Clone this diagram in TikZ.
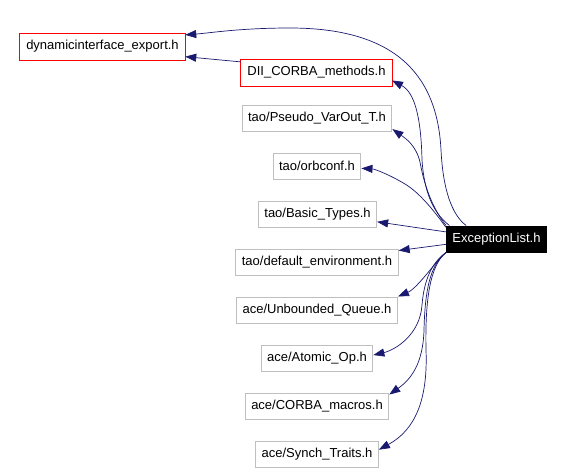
\documentclass[tikz,border=0pt]{standalone}
\usepackage{fontspec}
\setmainfont{Liberation Sans}
\usetikzlibrary{arrows.meta}
\definecolor{edgecol}{HTML}{191970}
\definecolor{hdrgrey}{HTML}{BFBFBF}
\definecolor{hdrred}{RGB}{255,0,0}
\tikzset{
  hfile/.style  = {draw=hdrgrey, line width=1pt, inner xsep=6pt, inner ysep=0pt,
                   minimum height=26pt, font=\fontsize{13}{15}\selectfont},
  hmiss/.style  = {hfile, draw=none},
  hframe/.style = {draw=hdrred, line width=1pt},
  hself/.style  = {hfile, draw=black, fill=black, text=white},
  incl/.style   = {draw=edgecol, line width=0.7pt,
                   -{Triangle[length=11pt, width=8pt, fill=edgecol]}},
}

\begin{document}
\begin{tikzpicture}[x=1pt, y=-1pt]

    \fill[white] (0,0) rectangle (563,472);
    \useasboundingbox (0,0) rectangle (563,472);

    % ---------- headers -------------------------------------------------
    \node[hmiss] (dyn)  at (102.5,46.5) {dynamicinterface\_export.h};
    \node[hmiss] (dii)  at (316.5,72.5) {DII\_CORBA\_methods.h};
    \node[hfile] (pvo)  at (317,118.5) {tao/Pseudo\_VarOut\_T.h};
    \node[hfile] (orb)  at (317,166)   {tao/orbconf.h};
    \node[hfile] (bty)  at (317.5,214.5) {tao/Basic\_Types.h};
    \node[hfile] (denv) at (317,262)   {tao/default\_environment.h};
    \node[hfile] (ubq)  at (317,310)   {ace/Unbounded\_Queue.h};
    \node[hfile] (aop)  at (317,358)   {ace/Atomic\_Op.h};
    \node[hfile] (cmac) at (317,406)   {ace/CORBA\_macros.h};
    \node[hfile] (syt)  at (317,454)   {ace/Synch\_Traits.h};
    \node[hself] (exl)  at (496.5,239) {ExceptionList.h};

    % red frames: headers that were not found
    \foreach \hn in {dyn, dii}
      {\draw[hframe] (\hn.north west) rectangle (\hn.south east);}

    % ---------- includes, upwards ---------------------------------------
    \draw[incl] (exl.156) .. controls (452,215) and (443,190) .. (441,150)
                .. controls (437,70) and (390,28) .. (290,28)
                .. controls (240,28) and (210,33) .. (dyn.8);
    \draw[incl] (dii.172) -- (dyn.-7);
    \draw[incl] (exl.164) .. controls (432,212) and (424,190) .. (422,160)
                .. controls (421,115) and (414,92) .. (dii.-6);
    \draw[incl] (exl.165) .. controls (435,212) and (425,190) .. (420,162)
                .. controls (416,145) and (405,138) .. (pvo.-8);
    \draw[incl] (exl.167) .. controls (435,212) and (420,193) .. (405,184)
                .. controls (390,175) and (375,169) .. (orb.-3);
    \draw[incl] (exl.172) -- (bty.-7);
    \draw[incl] (exl.186) -- (denv.8);

    % ---------- includes, downwards -------------------------------------
    \draw[incl] (exl.195) .. controls (438,258) and (418,288) .. (ubq.north east);
    \draw[incl] (exl.195) .. controls (432,262) and (424,280) .. (422,305)
                .. controls (420,335) and (395,350) .. (aop.3);
    \draw[incl] (exl.195) .. controls (430,265) and (425,290) .. (424,330)
                .. controls (423,365) and (410,380) .. (cmac.9);
    \draw[incl] (exl.195) .. controls (430,265) and (425,300) .. (426,350)
                .. controls (428,400) and (415,430) .. (syt.4);

\end{tikzpicture}
\end{document}
